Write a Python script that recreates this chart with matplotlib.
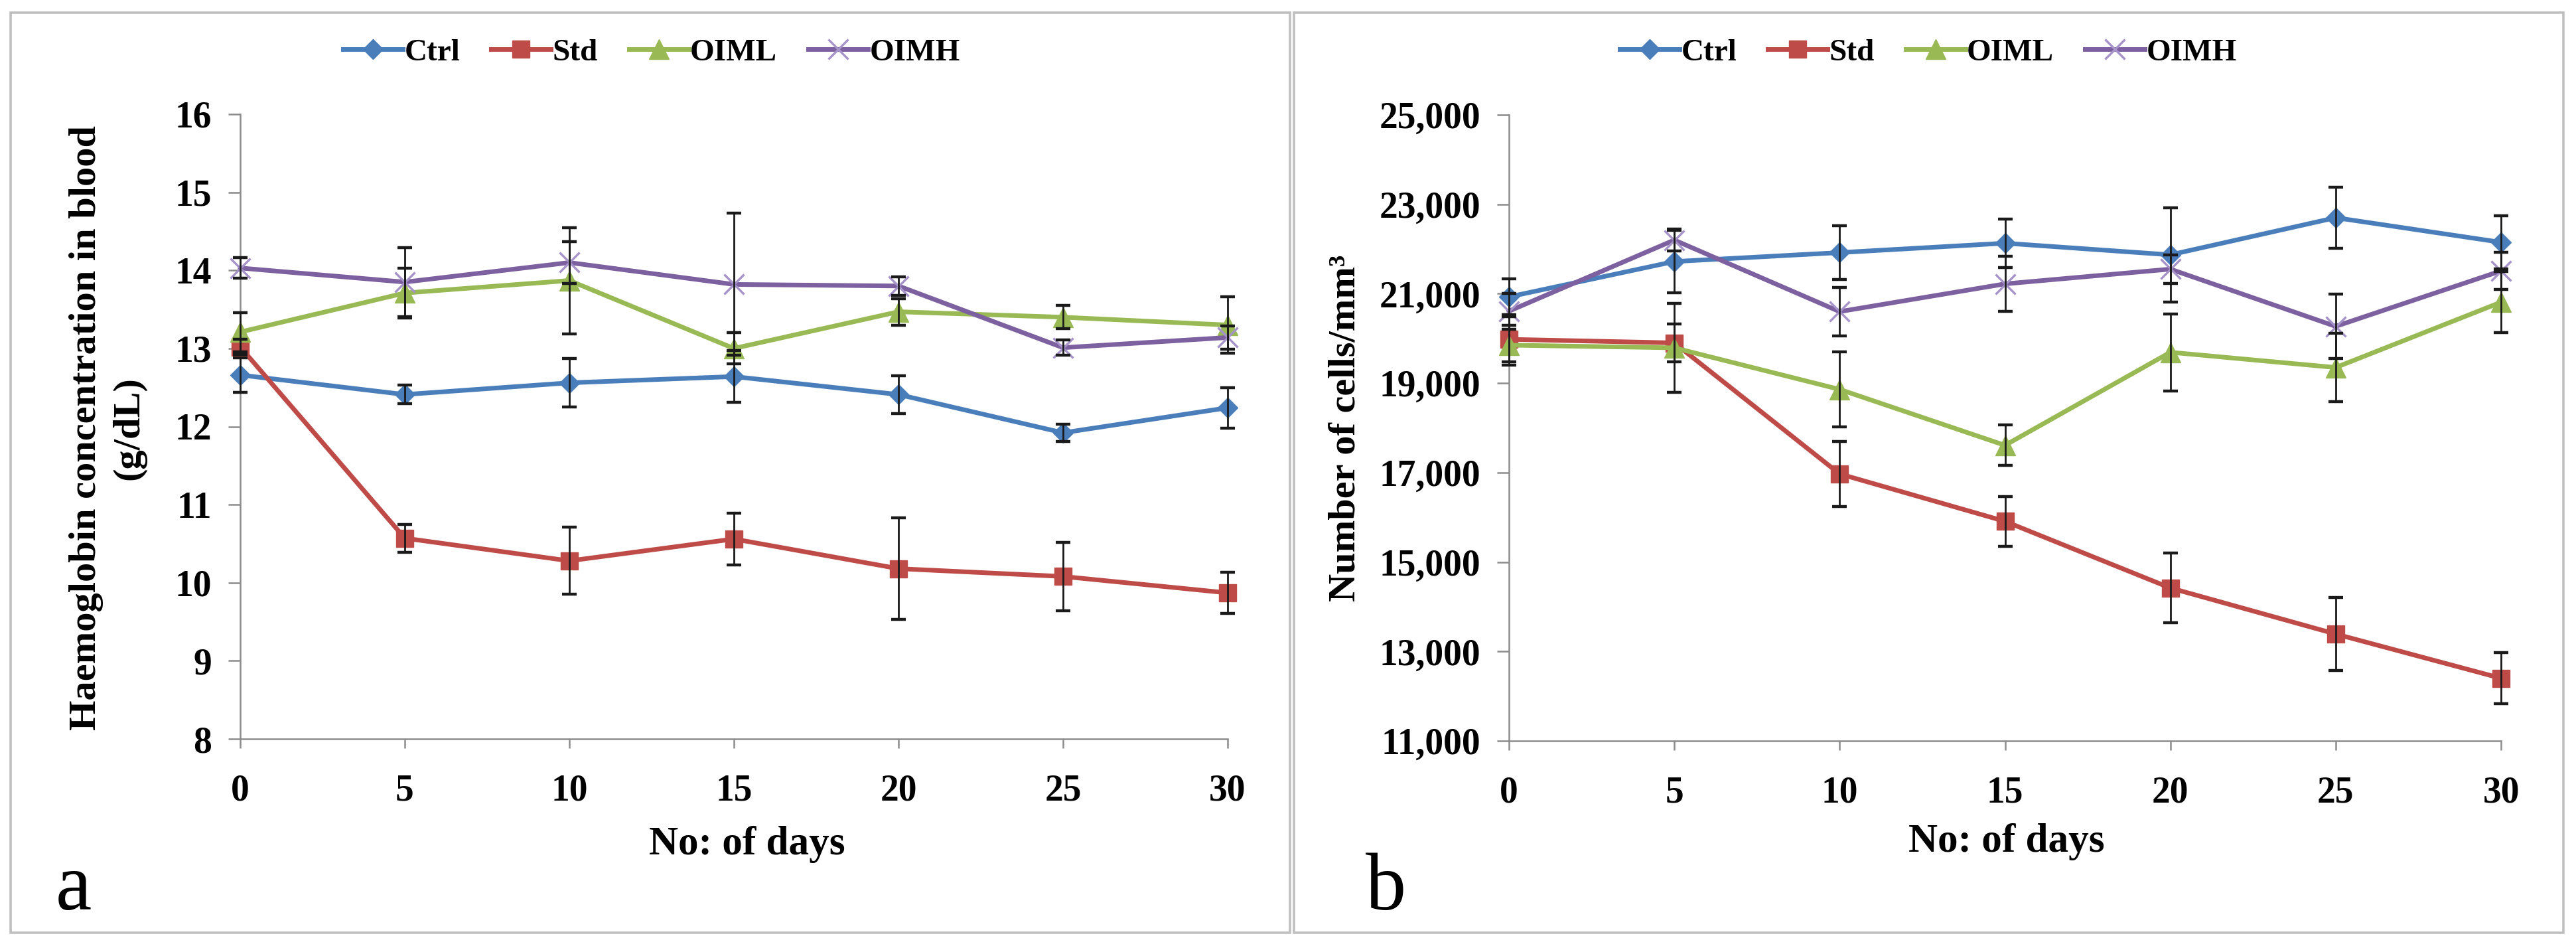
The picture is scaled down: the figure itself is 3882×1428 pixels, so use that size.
import matplotlib
matplotlib.use("Agg")
import matplotlib.pyplot as plt
from matplotlib.patches import Rectangle

# ---------------- data ----------------
days = [0, 5, 10, 15, 20, 25, 30]
series_names = ["Ctrl", "Std", "OIML", "OIMH"]

hb_ctrl = [12.66, 12.41, 12.56, 12.64, 12.41, 11.92, 12.24]
hb_std = [13.02, 10.57, 10.28, 10.56, 10.18, 10.08, 9.87]
hb_oiml = [13.21, 13.71, 13.87, 13.00, 13.47, 13.40, 13.30]
hb_oimh = [14.03, 13.85, 14.10, 13.82, 13.80, 13.01, 13.14]
hb_ctrl_err = [0.22, 0.12, 0.31, 0.33, 0.24, 0.11, 0.26]
hb_std_err = [0.10, 0.18, 0.43, 0.33, 0.65, 0.44, 0.26]
hb_oiml_err = [0.25, 0.32, 0.68, 0.20, 0.17, 0.15, 0.36]
hb_oimh_err = [0.13, 0.44, 0.27, 0.91, 0.12, 0.10, 0.15]

wbc_ctrl = [20930, 21720, 21920, 22130, 21870, 22700, 22150]
wbc_std = [19980, 19900, 16970, 15910, 14420, 13390, 12400]
wbc_oiml = [19850, 19790, 18860, 17610, 19690, 19350, 20810]
wbc_oimh = [20610, 22200, 20600, 21220, 21550, 20270, 21510]
wbc_ctrl_err = [400, 700, 600, 540, 1050, 680, 600]
wbc_std_err = [500, 430, 730, 560, 780, 820, 570]
wbc_oiml_err = [450, 1000, 840, 450, 860, 760, 680]
wbc_oimh_err = [400, 250, 540, 620, 320, 720, 420]

hb_yticks = [8, 9, 10, 11, 12, 13, 14, 15, 16]
hb_yticklabels = ["8", "9", "10", "11", "12", "13", "14", "15", "16"]
wbc_yticks = [11000, 13000, 15000, 17000, 19000, 21000, 23000, 25000]
wbc_yticklabels = ["11,000", "13,000", "15,000", "17,000", "19,000",
                   "21,000", "23,000", "25,000"]
xticks = [0, 5, 10, 15, 20, 25, 30]
xticklabels = ["0", "5", "10", "15", "20", "25", "30"]

hb_ylabel = "Haemoglobin concentration in blood\n(g/dL)"
wbc_ylabel = "Number of cells/mm\u00b3"
xlabel = "No: of days"

# ---------------- style ----------------
W, H = 3882, 1428
plt.rcParams['font.family'] = ['Liberation Serif', 'DejaVu Serif']
plt.rcParams['font.weight'] = 'bold'

styles = {
    "Ctrl": dict(color="#4A7EBB", marker="D", ms=15, mfc="#4A7EBB", mec="#4A7EBB", mew=1),
    "Std": dict(color="#BE4B48", marker="s", ms=19, mfc="#BE4B48", mec="#BE4B48", mew=1),
    "OIML": dict(color="#98B954", marker="^", ms=21, mfc="#98B954", mec="#98B954", mew=1),
    "OIMH": dict(color="#7D60A0", marker="x", ms=22, mfc="#A593C9", mec="#A593C9", mew=2.4),
}
axis_gray = "#8C8C8C"

fig = plt.figure(figsize=(W / 100, H / 100), dpi=100)


def fx(px):
    return px / W


def fy(py):
    return (H - py) / H


# panel frames
for (x0, x1) in [(16, 1944), (1950, 3863)]:
    fig.patches.append(Rectangle((fx(x0), fy(1405)), fx(x1) - fx(x0), fy(19) - fy(1405),
                                 transform=fig.transFigure, fill=False,
                                 edgecolor="#BFBFBF", lw=2.6, zorder=0))


def make_axes(left, right, top, bottom):
    return fig.add_axes([fx(left), fy(bottom), fx(right) - fx(left), fy(top) - fy(bottom)])


def draw(ax, values, errors, ylim, yticks, yticklabels):
    handles = []
    for name, y, e in zip(series_names, values, errors):
        st = styles[name]
        ln, = ax.plot(days, y, color=st["color"], lw=5.0, marker=st["marker"],
                      ms=st["ms"], mfc=st["mfc"], mec=st["mec"], mew=st["mew"],
                      zorder=3, clip_on=False, label=name)
        ax.errorbar(days, y, yerr=e, fmt="none", ecolor="#1a1a1a", elinewidth=2.0,
                    capsize=8, capthick=3.2, zorder=4, clip_on=False)
        handles.append(ln)
    ax.set_xlim(0, 30)
    ax.set_ylim(*ylim)
    ax.set_xticks(xticks)
    ax.set_xticklabels(xticklabels)
    ax.set_yticks(yticks)
    ax.set_yticklabels(yticklabels)
    for s in ["top", "right"]:
        ax.spines[s].set_visible(False)
    for s in ["left", "bottom"]:
        ax.spines[s].set_color(axis_gray)
        ax.spines[s].set_linewidth(1.8)
    ax.tick_params(axis="y", direction="out", length=13, width=1.8, color=axis_gray,
                   pad=18, labelsize=40)
    ax.tick_params(axis="x", direction="out", length=10, width=1.8, color=axis_gray,
                   pad=28, labelsize=40)
    for lab in ax.get_xticklabels() + ax.get_yticklabels():
        lab.set_fontweight("bold")
    return handles


# left panel
axL = make_axes(362, 1850, 172, 1113)
hL = draw(axL, [hb_ctrl, hb_std, hb_oiml, hb_oimh],
          [hb_ctrl_err, hb_std_err, hb_oiml_err, hb_oimh_err],
          (8, 16), hb_yticks, hb_yticklabels)

# right panel
axR = make_axes(2274, 3769, 173, 1116)
hR = draw(axR, [wbc_ctrl, wbc_std, wbc_oiml, wbc_oimh],
          [wbc_ctrl_err, wbc_std_err, wbc_oiml_err, wbc_oimh_err],
          (11000, 25000), wbc_yticks, wbc_yticklabels)

# legends
for handles, cx in [(hL, 982), (hR, 2906)]:
    fig.legend(handles, series_names, loc="center", bbox_to_anchor=(fx(cx), fy(79)),
               ncol=4, frameon=False, prop=dict(size=34, weight="bold"),
               handlelength=1.9, handletextpad=0.05, columnspacing=1.0, numpoints=1)

# axis labels
fig.text(fx(162), fy(645), hb_ylabel, rotation=90, ha="center", va="center",
         fontsize=42, fontweight="bold", linespacing=1.3, multialignment="center")
fig.text(fx(2027), fy(645), wbc_ylabel, rotation=90, ha="center", va="center",
         fontsize=42, fontweight="bold")
fig.text(fx(1126), fy(1272), xlabel, ha="center", va="center", fontsize=44, fontweight="bold")
fig.text(fx(3024), fy(1268), xlabel, ha="center", va="center", fontsize=44, fontweight="bold")

# panel letters
fig.text(fx(111), fy(1370), "a", ha="center", va="baseline", fontsize=88, fontweight="normal")
fig.text(fx(2088), fy(1370), "b", ha="center", va="baseline", fontsize=88, fontweight="normal")

fig.savefig("out.png", dpi=100, facecolor="white")
